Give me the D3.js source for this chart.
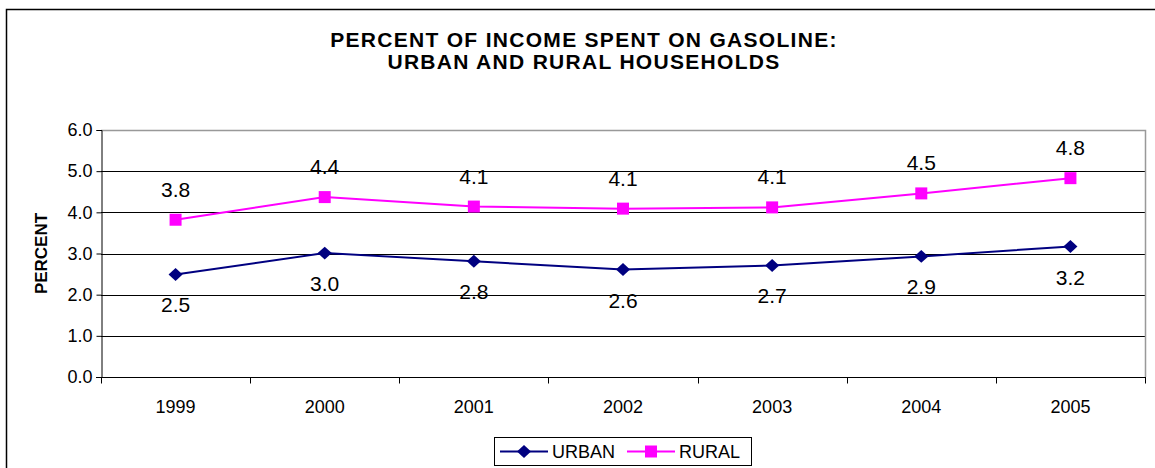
<!DOCTYPE html>
<meta charset="utf-8">
<script src="https://d3js.org/d3.v7.min.js"></script>
<style>
  body { margin: 0; background: #fff; }
  text { font-family: "Liberation Sans", Arial, sans-serif; fill: #000; }
</style>
<div id="chart"></div>
<script>
    // Data
    const years = ["1999", "2000", "2001", "2002", "2003", "2004", "2005"];
    const urban = [2.49, 3.01, 2.81, 2.61, 2.71, 2.93, 3.17];
    const rural = [3.82, 4.37, 4.14, 4.09, 4.12, 4.46, 4.83];
    const yTicks = [0, 1, 2, 3, 4, 5, 6];

    const W = 1155, H = 468;
    const margin = {top: 130, right: 10, bottom: 91, left: 101};
    const plotRight = 1145;

    const svg = d3.select("#chart")
        .append("svg")
        .attr("width", W)
        .attr("height", H);

    // Outer chart border (runs off right/bottom edge)
    svg.append("rect")
        .attr("x", 6.5).attr("y", 9.5)
        .attr("width", 1160).attr("height", 470)
        .attr("fill", "none")
        .attr("stroke", "#000")
        .attr("stroke-width", 1.5);

    // Scales
    const x = d3.scaleBand()
        .domain(years)
        .range([margin.left, plotRight]);

    const y = d3.scaleLinear()
        .domain([0, 6])
        .range([H - margin.bottom, margin.top]);

    const cx = d => x(d) + x.bandwidth() / 2;

    // Excel-style diamond: a bit wider than d3's default one
    const excelDiamond = {
        draw(context, size) {
            const w = Math.sqrt(size) * 0.74, h = w * 0.92;
            context.moveTo(0, -h);
            context.lineTo(w, 0);
            context.lineTo(0, h);
            context.lineTo(-w, 0);
            context.closePath();
        }
    };

    // Title
    const title = svg.append("text")
        .attr("text-anchor", "middle")
        .style("font-weight", "bold")
        .style("font-size", "21px")
        .style("letter-spacing", "1.3px");
    title.append("tspan").attr("x", 584).attr("y", 47).text("PERCENT OF INCOME SPENT ON GASOLINE:");
    title.append("tspan").attr("x", 584).attr("y", 69).text("URBAN AND RURAL HOUSEHOLDS");

    // Gridlines
    svg.append("g")
        .selectAll("line")
        .data(yTicks.filter(d => d > 0 && d < 6))
        .join("line")
            .attr("x1", margin.left).attr("x2", plotRight)
            .attr("y1", d => Math.round(y(d)) + 0.5)
            .attr("y2", d => Math.round(y(d)) + 0.5)
            .attr("stroke", "#000");

    // Plot border top/right (grey)
    svg.append("path")
        .attr("d", `M${margin.left},${y(6) + 0.5}H${plotRight + 0.5}V${y(0)}`)
        .attr("fill", "none")
        .attr("stroke", "#999")
        .attr("stroke-width", 1.5);

    // Y axis
    const yAxis = svg.append("g")
        .attr("transform", `translate(${margin.left + 0.5},0)`)
        .call(d3.axisLeft(y).tickValues(yTicks).tickFormat(d3.format(".1f")).tickSize(5).tickPadding(4));
    yAxis.selectAll("text").style("font-size", "18px");

    // X axis, ticks at band edges
    const xAxis = svg.append("g")
        .attr("transform", `translate(0,${y(0) + 0.5})`);
    xAxis.append("line")
        .attr("x1", margin.left - 5).attr("x2", plotRight + 1)
        .attr("stroke", "#000");
    xAxis.selectAll("line.tick")
        .data(years.concat(["end"]))
        .join("line")
            .attr("class", "tick")
            .attr("x1", (d, i) => Math.round(i < years.length ? x(d) : plotRight) + 0.5)
            .attr("x2", (d, i) => Math.round(i < years.length ? x(d) : plotRight) + 0.5)
            .attr("y1", 0).attr("y2", 6)
            .attr("stroke", "#000");
    xAxis.selectAll("text")
        .data(years)
        .join("text")
            .attr("x", d => cx(d))
            .attr("y", 35)
            .attr("text-anchor", "middle")
            .style("font-size", "18px")
            .text(d => d);

    // Y axis title
    svg.append("text")
        .attr("transform", `translate(47,${(y(0) + y(6)) / 2}) rotate(-90)`)
        .attr("text-anchor", "middle")
        .style("font-weight", "bold")
        .style("font-size", "17px")
        .text("PERCENT");

    const line = d3.line()
        .x((d, i) => cx(years[i]))
        .y(d => y(d));

    const series = [
        {name: "URBAN", values: urban, color: "#000080", shape: excelDiamond, size: 90, dy: 38},
        {name: "RURAL", values: rural, color: "#FF00FF", shape: d3.symbolSquare, size: 144, dy: -23}
    ];

    series.forEach(s => {
        svg.append("path")
            .datum(s.values)
            .attr("d", line)
            .attr("fill", "none")
            .attr("stroke", s.color)
            .attr("stroke-width", 2);

        svg.append("g")
            .selectAll("path")
            .data(s.values)
            .join("path")
                .attr("transform", (d, i) => `translate(${cx(years[i])},${y(d)})`)
                .attr("d", d3.symbol().type(s.shape).size(s.size))
                .attr("fill", s.color);

        svg.append("g")
            .selectAll("text")
            .data(s.values)
            .join("text")
                .attr("x", (d, i) => cx(years[i]))
                .attr("y", d => y(d) + s.dy)
                .attr("text-anchor", "middle")
                .style("font-size", "21px")
                .text(d => d.toFixed(1));
    });

    // Legend
    const legend = svg.append("g");
    legend.append("rect")
        .attr("x", 494.5).attr("y", 437.5)
        .attr("width", 257).attr("height", 28)
        .attr("fill", "#fff")
        .attr("stroke", "#000");

    const legendX = [500, 627];
    series.forEach((s, i) => {
        const lx = legendX[i];
        legend.append("line")
            .attr("x1", lx).attr("x2", lx + 48)
            .attr("y1", 451.5).attr("y2", 451.5)
            .attr("stroke", s.color)
            .attr("stroke-width", 2);
        legend.append("path")
            .attr("transform", `translate(${lx + 24},451.5)`)
            .attr("d", d3.symbol().type(s.shape).size(s.size))
            .attr("fill", s.color);
        legend.append("text")
            .attr("x", lx + 52)
            .attr("y", 458)
            .style("font-size", "18px")
            .text(s.name);
    });
</script>
